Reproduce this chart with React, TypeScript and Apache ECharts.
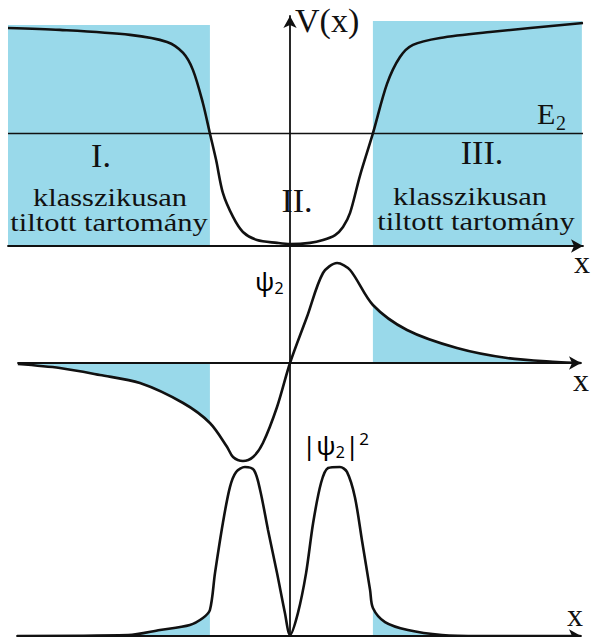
import { useEffect, useRef } from "react";
import * as echarts from "echarts";

// Forbidden-zone boundaries (where V(x) = E2)
const TURN_LEFT = -2.84;
const TURN_RIGHT = 2.94;
const E2 = 4.73;

// Panel 1: potential energy V(x)
const potX = [-10, -8.16, -5.67, -4.36, -3.79, -3.44, -3.09, -2.84, -2.62, -2.38, -2.02, -1.67, -1.17, -0.46, 0, 0.71, 1.17, 1.6, 1.88, 2.13, 2.48, 2.94, 3.44, 3.9, 4.36, 5.32, 7.09, 10.39];
const potV = [9.16, 9.08, 8.87, 8.57, 8.11, 7.39, 6.01, 4.73, 3.61, 2.23, 1.22, 0.59, 0.25, 0.13, 0.08, 0.13, 0.25, 0.46, 0.8, 1.39, 2.95, 4.73, 6.81, 7.94, 8.45, 8.74, 8.99, 9.37];
// Shaded "classically forbidden" blocks: [xFrom, xTo, top]
const zoneLeft = [-10, TURN_LEFT, 9.29];
const zoneRight = [TURN_RIGHT, 10.35, 9.45];

// Panel 2: wave function psi_2
const psiX = [-9.65, -8.16, -6.74, -5.32, -3.79, -2.84, -2.23, -2.02, -1.67, -1.31, -0.96, -0.46, 0, 0.6, 1.17, 1.67, 2.13, 2.94, 4.15, 5.92, 7.7, 9.47, 10.3];
const psi = [-0.04, -0.2, -0.48, -0.8, -1.6, -2.4, -3.36, -3.76, -3.92, -3.76, -3.2, -1.76, 0, 1.84, 3.6, 4.0, 3.72, 2.32, 1.32, 0.6, 0.2, 0.04, 0];

// Panel 3: probability density |psi_2|^2
const probX = [-9.68, -5.74, -4.61, -3.55, -3.09, -2.84, -2.66, -2.38, -2.13, -1.91, -1.6, -1.28, -1.06, -0.78, -0.46, -0.18, 0, 0.28, 0.57, 0.82, 1.1, 1.35, 1.77, 2.02, 2.3, 2.55, 2.84, 2.94, 3.37, 4.18, 5.39, 6.74, 10.3];
const prob = [0, 0.005, 0.035, 0.065, 0.106, 0.153, 0.37, 0.665, 0.876, 0.965, 0.994, 0.976, 0.859, 0.624, 0.37, 0.135, 0.006, 0.135, 0.37, 0.665, 0.9, 0.988, 0.994, 0.965, 0.818, 0.565, 0.27, 0.165, 0.082, 0.035, 0.006, 0, 0];

const BLUE = "#99D9EA";
const INK = "#111";
const SERIF = '"Liberation Serif", "DejaVu Serif", serif';
const SANS = '"Noto Sans", "DejaVu Sans", sans-serif';

// horizontal scale shared by every panel
const ORIGIN_PX = 290;
const PX_PER_UNIT = 28.2;

const zip = (xs: number[], ys: number[]) => xs.map((x, i) => [x, ys[i]]);
const slice = (xs: number[], ys: number[], lo: number, hi: number) =>
  zip(xs, ys).filter(([x]) => x >= lo - 1e-9 && x <= hi + 1e-9);

function panel(leftPx: number, rightPx: number, top: number, height: number) {
  return {
    grid: { left: leftPx, top, width: rightPx - leftPx, height },
    min: (leftPx - ORIGIN_PX) / PX_PER_UNIT,
    max: (rightPx - ORIGIN_PX) / PX_PER_UNIT,
  };
}

const arrowLine = {
  show: true,
  onZero: true,
  symbol: ["none", "arrow"],
  symbolSize: [10, 12],
  lineStyle: { color: INK, width: 1.8 },
};

function xAxisFor(p: { min: number; max: number }, idx: number, showLine = true) {
  return {
    type: "value",
    gridIndex: idx,
    min: p.min,
    max: p.max,
    z: 5,
    axisLine: showLine ? arrowLine : { show: false },
    axisTick: { show: false },
    axisLabel: { show: false },
    splitLine: { show: false },
  };
}

function yAxisFor(min: number, max: number, idx: number) {
  return {
    type: "value",
    gridIndex: idx,
    min,
    max,
    axisLine: { show: false },
    axisTick: { show: false },
    axisLabel: { show: false },
    splitLine: { show: false },
  };
}

function txt(text: string, x: number, y: number, size: number, family: string, align = "center", scaleX = 1) {
  return {
    type: "text",
    x,
    y,
    scaleX,
    z: 20,
    style: { text, fontSize: size, fontFamily: family, fill: INK, align, verticalAlign: "middle" },
  };
}

// rich-text styles for psi with sub/superscripts
const psiRich = {
  m: { fontSize: 26, fontFamily: SANS, color: INK, lineHeight: 30 },
  s: { fontSize: 16, fontFamily: SANS, color: INK, lineHeight: 16, verticalAlign: "bottom" },
  p: { fontSize: 17, fontFamily: SANS, color: INK, lineHeight: 17, verticalAlign: "top" },
};

function curve(data: number[][], idx: number) {
  return {
    type: "line",
    xAxisIndex: idx,
    yAxisIndex: idx,
    data,
    smooth: 0.3,
    showSymbol: false,
    clip: false,
    z: 10,
    lineStyle: { color: INK, width: 2.6 },
  };
}

function shade(data: number[][], idx: number, smooth: number | boolean = 0.3) {
  return {
    type: "line",
    xAxisIndex: idx,
    yAxisIndex: idx,
    data,
    smooth,
    showSymbol: false,
    clip: false,
    z: 1,
    lineStyle: { width: 0, opacity: 0 },
    areaStyle: { color: BLUE, opacity: 1, origin: "auto" },
  };
}

export default function App() {
  const ref = useRef<HTMLDivElement>(null);

  useEffect(() => {
    if (!ref.current) return;
    const chart = echarts.init(ref.current, undefined, { renderer: "svg" });

    const p1 = panel(8, 583, 8, 238);
    const p2 = panel(18, 581, 263, 200);
    const p3 = panel(17, 581, 466, 170);
    const pAxis = { grid: { left: ORIGIN_PX, top: 16, width: 293, height: 621 }, min: 0, max: 10.39 };

    chart.setOption({
      animation: false,
      backgroundColor: "#fff",
      grid: [p1.grid, p2.grid, p3.grid, pAxis.grid],
      xAxis: [xAxisFor(p1, 0), xAxisFor(p2, 1), xAxisFor(p3, 2), xAxisFor(pAxis, 3, false)],
      yAxis: [
        yAxisFor(0, 10, 0),
        yAxisFor(-4, 4, 1),
        yAxisFor(0, 1, 2),
        {
          ...yAxisFor(0, 1, 3),
          z: 5,
          axisLine: { ...arrowLine, onZero: false },
        },
      ],
      series: [
        // panel 1
        shade([[zoneLeft[0], zoneLeft[2]], [zoneLeft[1], zoneLeft[2]]], 0, false),
        shade([[zoneRight[0], zoneRight[2]], [zoneRight[1], zoneRight[2]]], 0, false),
        {
          type: "line",
          xAxisIndex: 0,
          yAxisIndex: 0,
          data: [[p1.min, E2], [p1.max, E2]],
          showSymbol: false,
          z: 4,
          lineStyle: { color: INK, width: 1.6 },
        },
        curve(zip(potX, potV), 0),
        // panel 2
        shade(slice(psiX, psi, -100, TURN_LEFT), 1),
        shade(slice(psiX, psi, TURN_RIGHT, 100), 1),
        curve(zip(psiX, psi), 1),
        // panel 3
        shade(slice(probX, prob, -5.74, TURN_LEFT), 2),
        shade(slice(probX, prob, TURN_RIGHT, 5.39), 2),
        curve(zip(probX, prob), 2),
      ],
      graphic: {
        elements: [
          txt("V(x)", 295, 20, 34, SERIF, "left"),
          txt("E", 537, 113, 30, SERIF, "left"),
          txt("2", 556, 123, 20, SERIF, "left"),
          txt("I.", 101, 155, 34, SERIF),
          txt("II.", 297, 200, 34, SERIF),
          txt("III.", 482, 152, 34, SERIF),
          txt("klasszikusan", 110, 197, 25, SERIF, "center", 1.22),
          txt("tiltott tartomány", 109, 222, 25, SERIF, "center", 1.22),
          txt("klasszikusan", 470, 196, 25, SERIF, "center", 1.22),
          txt("tiltott tartomány", 476, 221, 25, SERIF, "center", 1.22),
          txt("x", 582, 262, 32, SERIF),
          txt("x", 581, 380, 32, SERIF),
          txt("x", 575, 615, 32, SERIF),
          {
            type: "text",
            x: 255,
            y: 281,
            z: 20,
            style: { text: "{m|ψ}{s|2}", rich: psiRich, align: "left", verticalAlign: "middle" },
          },
          {
            type: "text",
            x: 302,
            y: 445,
            z: 20,
            style: { text: "{m||ψ}{s|2}{m||}{p|2}", rich: psiRich, align: "left", verticalAlign: "middle" },
          },
        ],
      },
    });

    return () => chart.dispose();
  }, []);

  return (
    <div
      ref={ref}
      style={{ position: "fixed", left: 0, top: 0, width: 591, height: 637 }}
    />
  );
}
